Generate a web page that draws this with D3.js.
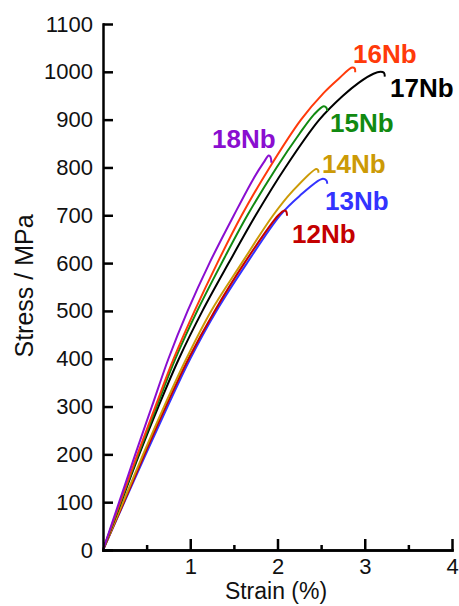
<!DOCTYPE html>
<html>
<head>
  <meta http-equiv="Content-Type" content="text/html; charset=UTF-8">
  <style>
    body { margin: 0; background: #fff; }
    .axis path, .axis line { stroke: #000; stroke-width: 2.5px; }
    .axis text { font-family: "Liberation Sans", Arial, sans-serif; font-size: 22px; fill: #111; }
    .title { font-family: "Liberation Sans", Arial, sans-serif; font-size: 23px; fill: #111; }
    .curve { fill: none; stroke-width: 2px; stroke-linejoin: round; }
    .label { font-family: "Liberation Sans", Arial, sans-serif; font-size: 26px; font-weight: bold; }
  </style>
</head>
<body>
  <svg width="459" height="606"></svg>
  <script src="https://cdn.jsdelivr.net/npm/d3@7"></script>
  <script>
    // strain (%) / stress (MPa), last points = fracture drop
    var nb12Strain = [0, 0.24, 0.475, 0.72, 0.98, 1.28, 1.62, 2.01, 2.08, 2.10, 2.11],
        nb12Stress = [0, 100, 200, 300, 400, 500, 600, 700, 710, 708, 699];
    var nb13Strain = [0, 0.245, 0.49, 0.74, 1.0, 1.30, 1.65, 2.03, 2.25, 2.51, 2.56, 2.57],
        nb13Stress = [0, 100, 200, 300, 400, 500, 600, 700, 740, 776, 773, 766];
    var nb14Strain = [0, 0.23, 0.46, 0.70, 0.955, 1.24, 1.59, 1.95, 2.17, 2.446, 2.466, 2.468],
        nb14Stress = [0, 100, 200, 300, 400, 500, 600, 700, 750, 797, 794, 789];
    var nb15Strain = [0, 0.202, 0.405, 0.615, 0.83, 1.08, 1.36, 1.655, 1.99, 2.25, 2.42, 2.53, 2.56, 2.57],
        nb15Stress = [0, 100, 200, 300, 400, 500, 600, 700, 800, 870, 911, 928, 925, 918];
    var nb16Strain = [0, 0.197, 0.395, 0.60, 0.81, 1.05, 1.31, 1.59, 1.91, 2.27, 2.53, 2.71, 2.855, 2.885, 2.89],
        nb16Stress = [0, 100, 200, 300, 400, 500, 600, 700, 800, 900, 956, 987, 1009, 1007, 999];
    var nb17Strain = [0, 0.207, 0.415, 0.635, 0.87, 1.14, 1.44, 1.75, 2.09, 2.48, 2.75, 2.93, 3.10, 3.18, 3.22, 3.23],
        nb17Stress = [0, 100, 200, 300, 400, 500, 600, 700, 800, 900, 950, 977, 996, 1000, 998, 990];
    var nb18Strain = [0, 0.185, 0.37, 0.56, 0.75, 0.97, 1.22, 1.50, 1.72, 1.84, 1.90, 1.92, 1.93],
        nb18Stress = [0, 100, 200, 300, 400, 500, 600, 700, 775, 810, 825, 822, 810];

    var xTicks = [1, 2, 3, 4],
        xMinorTicks = [0.5, 1.5, 2.5, 3.5],
        yTicks = d3.range(0, 1101, 100);

    // drawing order: bottom first
    var series = [
      {name: "13Nb", strain: nb13Strain, stress: nb13Stress, color: "#3333ff", lx: 325, ly: 210},
      {name: "12Nb", strain: nb12Strain, stress: nb12Stress, color: "#c40000", lx: 292, ly: 243},
      {name: "14Nb", strain: nb14Strain, stress: nb14Stress, color: "#cc9a06", lx: 322, ly: 173},
      {name: "17Nb", strain: nb17Strain, stress: nb17Stress, color: "#000000", lx: 390, ly: 97},
      {name: "15Nb", strain: nb15Strain, stress: nb15Stress, color: "#118a11", lx: 330, ly: 132},
      {name: "16Nb", strain: nb16Strain, stress: nb16Stress, color: "#ff3a0a", lx: 353, ly: 63},
      {name: "18Nb", strain: nb18Strain, stress: nb18Stress, color: "#8a0ed0", lx: 212, ly: 148}
    ];

    var svg = d3.select("svg");

    var x = d3.scaleLinear().domain([0, 4]).range([103, 452]),
        y = d3.scaleLinear().domain([0, 1100]).range([550, 24]);

    var line = d3.line()
      .x(function(d) { return x(d[0]); })
      .y(function(d) { return y(d[1]); })
      .curve(d3.curveCatmullRom.alpha(0.5));

    series.forEach(function(s) {
      var pts = s.strain.map(function(v, i) { return [v, s.stress[i]]; });
      svg.append("path")
        .datum(pts)
        .attr("class", "curve")
        .attr("stroke", s.color)
        .attr("d", line);
    });

    svg.append("g")
      .attr("class", "axis")
      .attr("transform", "translate(0," + y(0) + ")")
      .call(d3.axisBottom(x).tickValues(xMinorTicks).tickSize(-5).tickSizeOuter(0).tickFormat(""));

    svg.append("g")
      .attr("class", "axis")
      .attr("transform", "translate(0," + y(0) + ")")
      .call(d3.axisBottom(x).tickValues(xTicks).tickSize(-11).tickSizeOuter(0).tickPadding(8).tickFormat(d3.format("d")));

    svg.append("g")
      .attr("class", "axis")
      .attr("transform", "translate(" + x(0) + ",0)")
      .call(d3.axisLeft(y).tickValues(yTicks).tickSize(-10).tickSizeOuter(0).tickPadding(10).tickFormat(d3.format("d")));

    svg.selectAll(".axis .domain").attr("stroke-linecap", "square");

    svg.append("text")
      .attr("class", "title")
      .attr("x", 276)
      .attr("y", 599)
      .attr("text-anchor", "middle")
      .text("Strain (%)");

    svg.append("text")
      .attr("class", "title")
      .attr("transform", "translate(33,286) rotate(-90)")
      .attr("text-anchor", "middle")
      .style("font-size", "25px")
      .text("Stress / MPa");

    svg.selectAll(".label")
      .data(series)
      .enter().append("text")
      .attr("class", "label")
      .attr("x", function(d) { return d.lx; })
      .attr("y", function(d) { return d.ly; })
      .attr("fill", function(d) { return d.color; })
      .text(function(d) { return d.name; });
  </script>
</body>
</html>
